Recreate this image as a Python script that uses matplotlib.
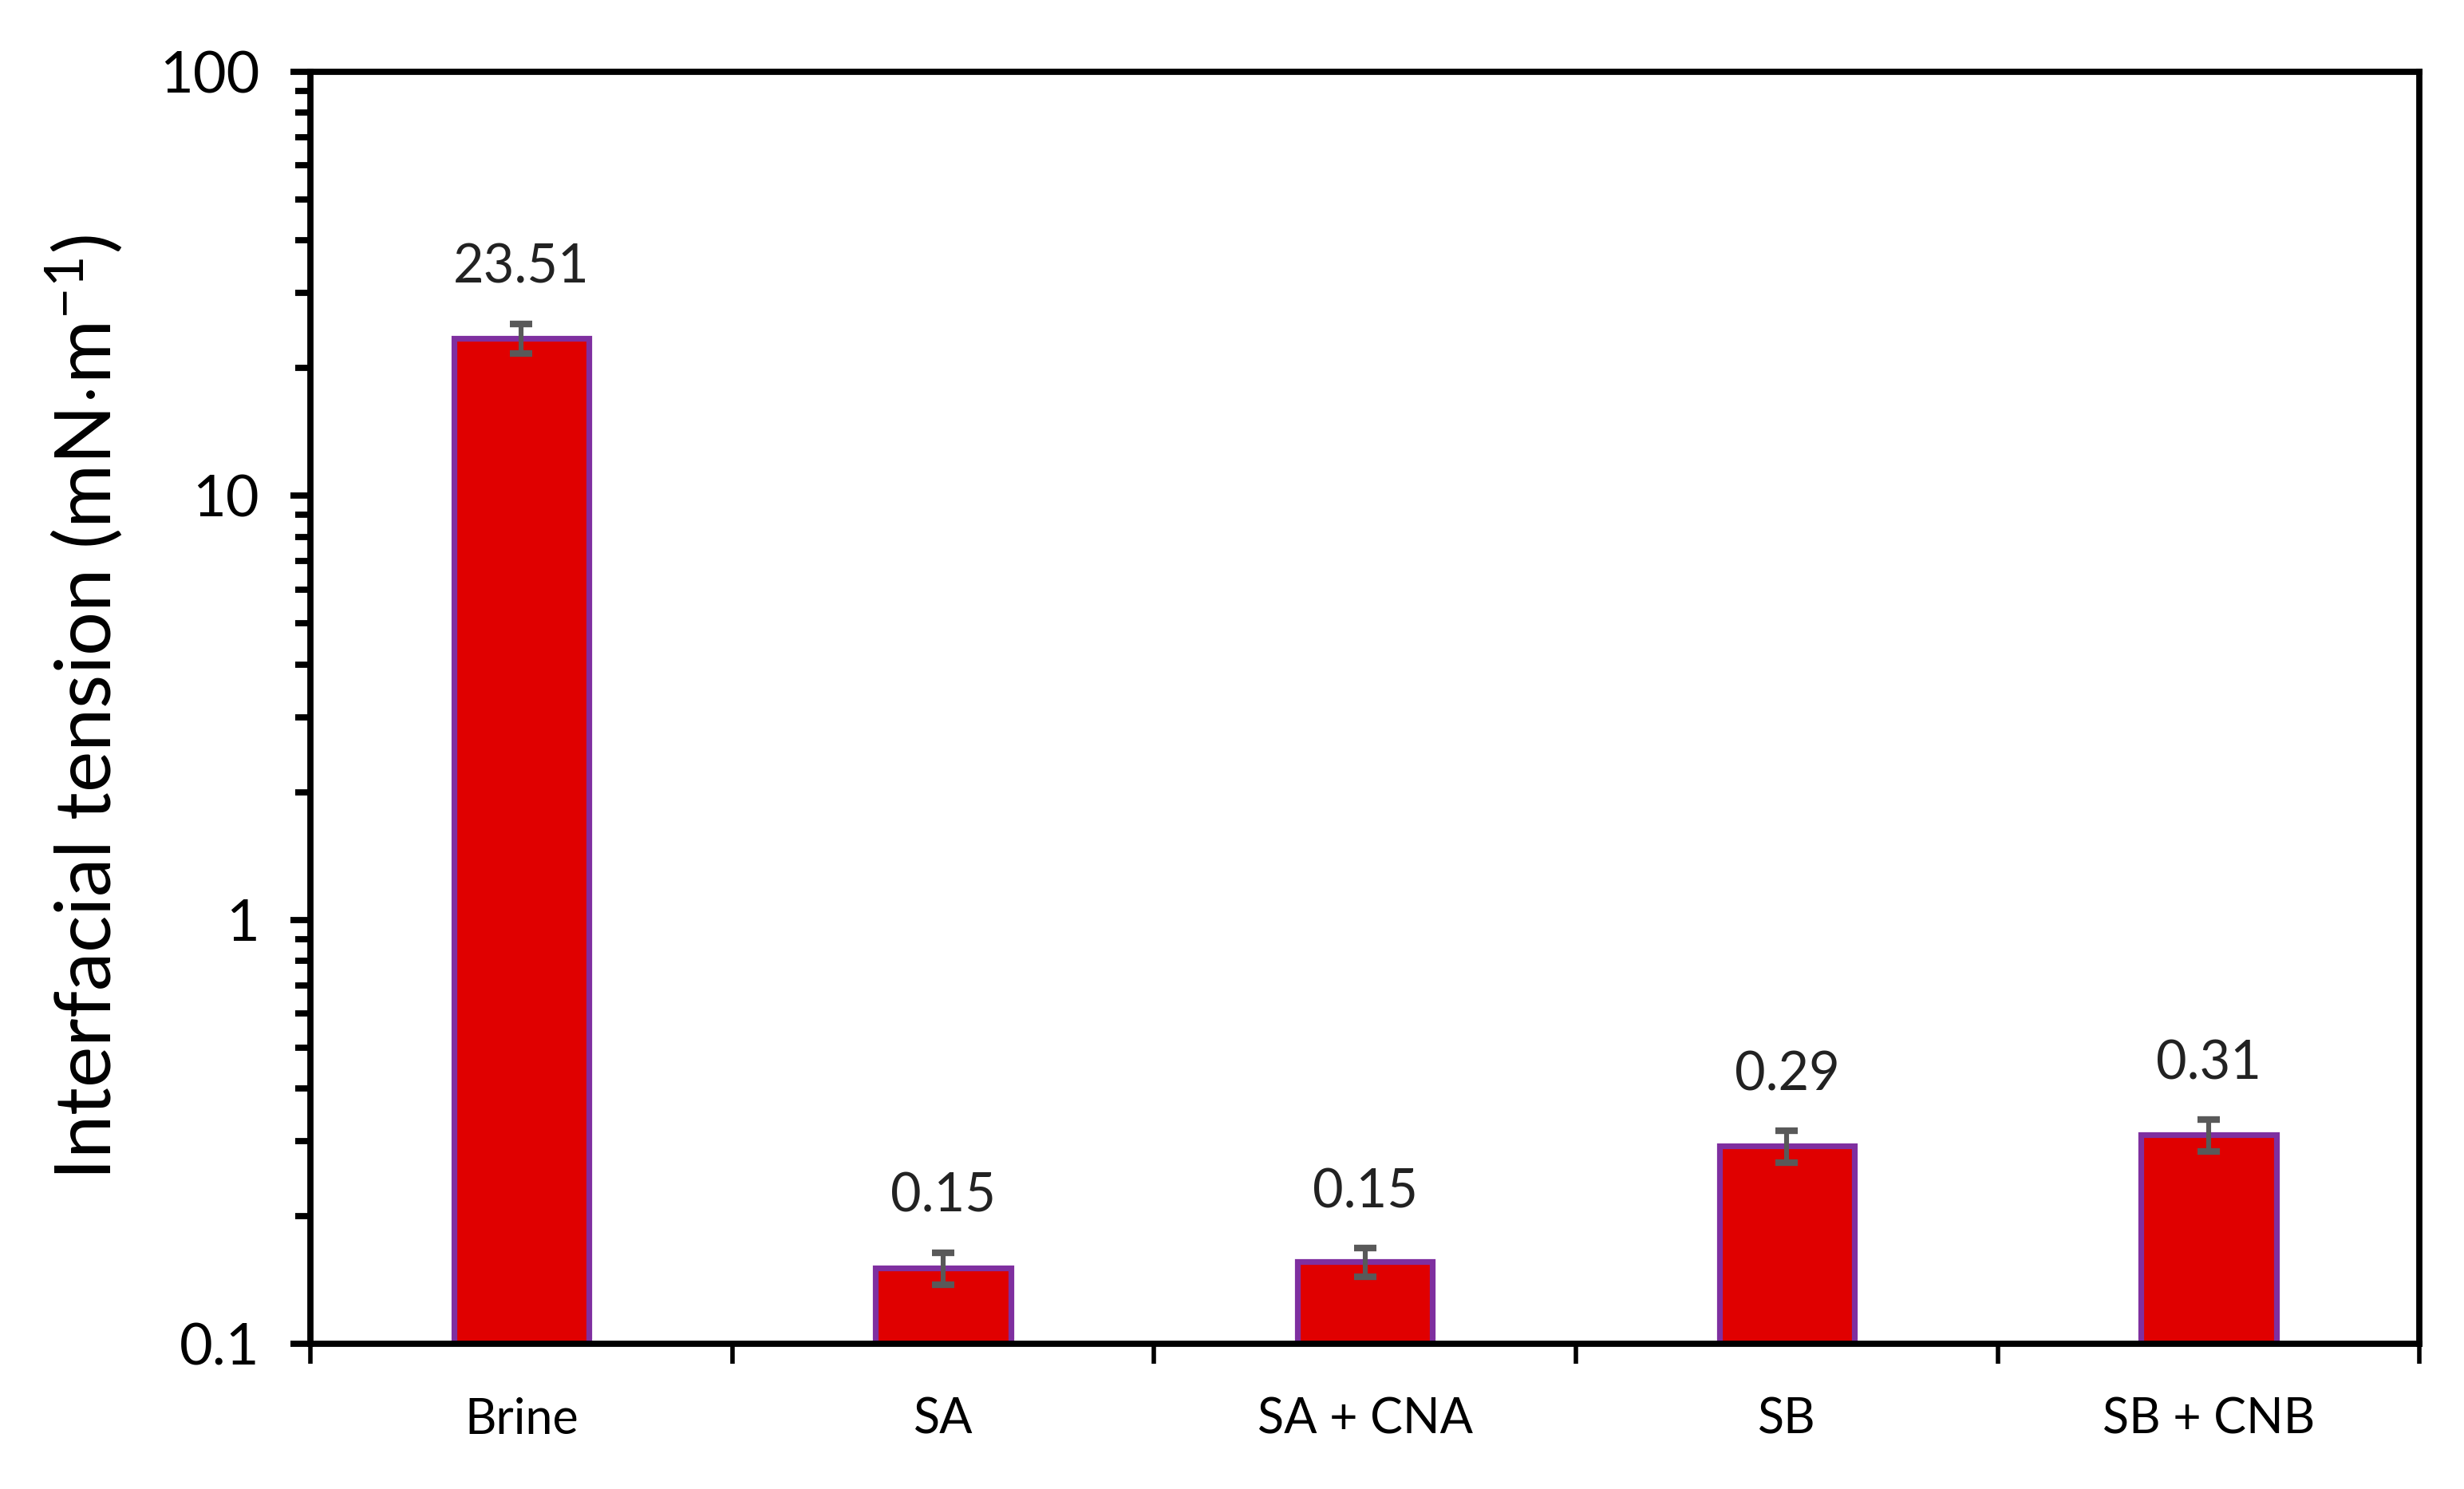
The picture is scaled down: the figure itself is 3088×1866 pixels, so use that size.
import numpy as np
import matplotlib
matplotlib.use('Agg')
import matplotlib.pyplot as plt

plt.rcParams['font.family'] = ['Lato', 'DejaVu Sans']
plt.rcParams['mathtext.fontset'] = 'custom'
plt.rcParams['mathtext.rm'] = 'Lato'
plt.rcParams['mathtext.it'] = 'Lato:italic'

samples = ['Brine', 'SA', 'SA + CNA', 'SB', 'SB + CNB']
ift = [23.51, 0.151, 0.156, 0.293, 0.311]
ift_err = [1.9, 0.013, 0.012, 0.025, 0.027]
value_labels = ['23.51', '0.15', '0.15', '0.29', '0.31']

fig = plt.figure(figsize=(15.44, 9.33), dpi=200)
ax = fig.add_axes([0.126, 0.0975, 0.856, 0.8545])

x = np.arange(len(samples))
ax.bar(x, ift, width=0.32, color='#E00000', edgecolor='#7F2FA0', linewidth=2.6, zorder=2)
ax.errorbar(x, ift, yerr=ift_err, fmt='none', ecolor='#595959', elinewidth=2.2,
            capsize=5, capthick=3.0, zorder=3)

# value labels above the error bars
for xi, v, e, lab in zip(x, ift, ift_err, value_labels):
    ax.annotate(lab, (xi, v + e), xytext=(0, 14), textcoords='offset points',
                ha='center', va='bottom', fontsize=24, color='#222222')

ax.set_yscale('log')
ax.set_ylim(0.1, 100)
ax.set_xlim(-0.5, len(samples) - 0.5)
ax.set_yticks([0.1, 1, 10, 100])
ax.set_yticklabels(['0.1', '1', '10', '100'])

# category ticks sit on the boundaries, labels at centres
ax.set_xticks(np.arange(-0.5, len(samples), 1.0))
ax.set_xticklabels([])
ax.set_xticks(x, minor=True)
ax.set_xticklabels(samples, minor=True, fontsize=22)
ax.tick_params(axis='x', which='major', direction='out', length=9, width=2)
ax.tick_params(axis='x', which='minor', length=0, pad=24)
ax.tick_params(axis='y', which='major', direction='out', length=9, width=2.8, labelsize=26, pad=14)
ax.tick_params(axis='y', which='minor', direction='out', length=7, width=2.8)

for s in ax.spines.values():
    s.set_linewidth(2.8)

ax.set_ylabel('Interfacial tension (mN$\\cdot$m$^{-1}$)', fontsize=35, labelpad=16)

fig.savefig('out.png', dpi=200)
